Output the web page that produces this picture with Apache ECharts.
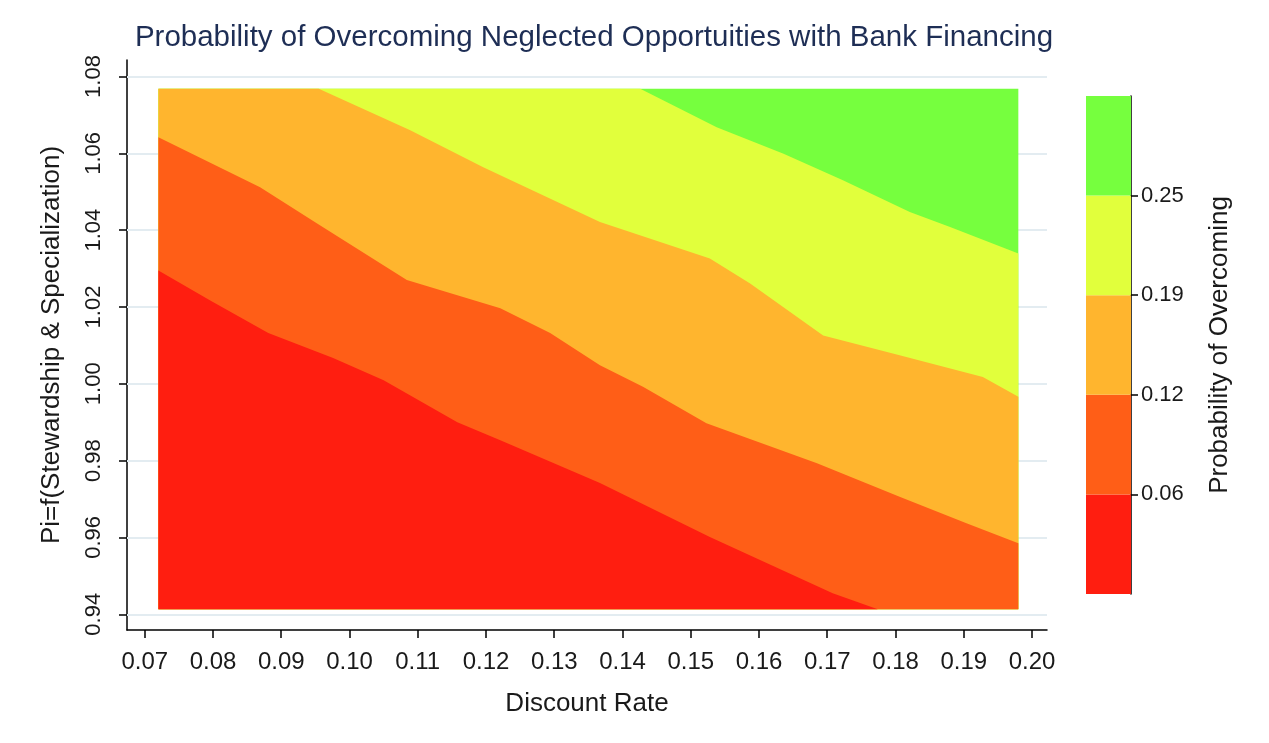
<!DOCTYPE html>
<html>
<head>
<meta charset="utf-8">
<script src="https://cdn.jsdelivr.net/npm/echarts@6/dist/echarts.min.js"></script>
<style>
  html, body { margin: 0; padding: 0; background: #fff; }
  #chart { width: 1269px; height: 743px; }
</style>
</head>
<body>
<div id="chart"></div>
<script>
// axis ticks
const xTicks = [0.07, 0.08, 0.09, 0.10, 0.11, 0.12, 0.13, 0.14, 0.15, 0.16, 0.17, 0.18, 0.19, 0.20]
const yTicks = [0.94, 0.96, 0.98, 1.00, 1.02, 1.04, 1.06, 1.08]

// extent of the computed surface
const xLo = 0.072, xHi = 0.198
const yLo = 0.9413, yHi = 1.0768

// upper edge of each band, bands drawn from top to bottom
const greenTop = [[0.072, 1.0768], [0.198, 1.0768]]
const yellowTop = [[0.072, 1.0768], [0.1426, 1.0768], [0.1538, 1.0668], [0.1636, 1.0599], [0.1723, 1.0530],
  [0.1821, 1.0447], [0.1880, 1.0408], [0.198, 1.0339]]
const orangeTop = [[0.072, 1.0768], [0.0955, 1.0768], [0.1089, 1.0660], [0.1196, 1.0564], [0.1367, 1.0421],
  [0.1528, 1.0326], [0.1587, 1.0261], [0.1694, 1.0126], [0.1806, 1.0074], [0.1928, 1.0018], [0.198, 0.9966]]
const darkOrangeTop = [[0.072, 1.0642], [0.0869, 1.0512], [0.0952, 1.0418], [0.1084, 1.0270], [0.1221, 1.0197],
  [0.1294, 1.0132], [0.1367, 1.0048], [0.1430, 0.9992], [0.1523, 0.9897], [0.1685, 0.9793], [0.1806, 0.9706],
  [0.1904, 0.9637], [0.198, 0.9585]]
const redTop = [[0.072, 1.0295], [0.0796, 1.0217], [0.0881, 1.0132], [0.0976, 1.0067], [0.1050, 1.0009],
  [0.1158, 0.9900], [0.1221, 0.9853], [0.1367, 0.9742], [0.1528, 0.9601], [0.1708, 0.9455], [0.1774, 0.9413],
  [0.198, 0.9413]]

// colour key
const legendCuts = [0, 0.0625, 0.125, 0.1875, 0.25, 0.3125]
const legendLabels = ['0.06', '0.12', '0.19', '0.25']
const bandColors = ['#ff1e10', '#ff5e17', '#ffb52e', '#e1ff3c', '#76ff3e']

const font = 'Liberation Sans, Arial, sans-serif'
const txt = '#1a1a1a'

const chart = echarts.init(document.getElementById('chart'))

function band(data, color) {
  return {
    type: 'line',
    data: data,
    showSymbol: false,
    silent: true,
    z: 3,
    lineStyle: { width: 0, opacity: 0 },
    areaStyle: { color: color, opacity: 1, origin: yLo }
  }
}

const legendTicks = legendCuts.slice(1, legendCuts.length - 1)

chart.setOption({
  animation: false,
  title: {
    text: 'Probability of Overcoming Neglected Opportuities with Bank Financing',
    left: 589,
    textAlign: 'center',
    top: 18,
    textStyle: { fontFamily: font, fontSize: 29.5, fontWeight: 'normal', color: '#1e2e55' }
  },
  grid: [
    { left: 127, top: 60, width: 920, height: 570 },
    { left: 1086, top: 96, width: 45, height: 498 }
  ],
  xAxis: [{
    type: 'value',
    min: 0.0674,
    max: 0.2022,
    name: 'Discount Rate',
    nameLocation: 'middle',
    nameGap: 61,
    nameTextStyle: { fontFamily: font, fontSize: 26, color: txt },
    axisLine: { lineStyle: { color: '#000', width: 1.5 } },
    axisTick: { show: true, length: 8, customValues: xTicks, lineStyle: { color: '#000', width: 1.5 } },
    axisLabel: {
      customValues: xTicks, margin: 20,
      fontFamily: font, fontSize: 24, color: txt,
      formatter: v => v.toFixed(2)
    },
    splitLine: { show: false }
  }, {
    type: 'category',
    gridIndex: 1,
    data: ['key'],
    show: false
  }],
  yAxis: [{
    type: 'value',
    min: 0.9359,
    max: 1.0843,
    name: 'Pi=f(Stewardship & Specialization)',
    nameLocation: 'middle',
    nameRotate: 90,
    nameGap: 62,
    nameTextStyle: { fontFamily: font, fontSize: 26, color: txt },
    axisLine: { show: true, lineStyle: { color: '#000', width: 1.5 } },
    axisTick: { show: true, length: 8, customValues: yTicks, lineStyle: { color: '#000', width: 1.5 } },
    axisLabel: {
      customValues: yTicks, rotate: 90, margin: 22,
      fontFamily: font, fontSize: 22, color: txt,
      formatter: v => v.toFixed(2)
    },
    splitLine: { show: false }
  }, {
    type: 'value',
    gridIndex: 1,
    position: 'right',
    min: legendCuts[0],
    max: legendCuts[legendCuts.length - 1],
    name: 'Probability of Overcoming',
    nameLocation: 'middle',
    nameRotate: 90,
    nameGap: 76,
    nameTextStyle: { fontFamily: font, fontSize: 26, color: txt },
    axisLine: { show: true, lineStyle: { color: '#000', width: 1.5 } },
    axisTick: { show: true, length: 7, customValues: legendTicks, lineStyle: { color: '#000', width: 1.5 } },
    axisLabel: {
      customValues: legendTicks, margin: 10,
      fontFamily: font, fontSize: 22, color: txt,
      formatter: v => {
        const i = legendTicks.findIndex(t => Math.abs(t - v) < 1e-9)
        return i >= 0 ? legendLabels[i] : ''
      }
    },
    splitLine: { show: false }
  }],
  series: [
    {
      // horizontal grid lines behind the surface
      type: 'line',
      data: [],
      silent: true,
      markLine: {
        silent: true,
        symbol: 'none',
        z: 1,
        label: { show: false },
        lineStyle: { color: '#e3ecf1', width: 2, type: 'solid' },
        data: yTicks.map(v => ({ yAxis: v }))
      }
    },
    band(greenTop, bandColors[4]),
    band(yellowTop, bandColors[3]),
    band(orangeTop, bandColors[2]),
    band(darkOrangeTop, bandColors[1]),
    band(redTop, bandColors[0])
  ].concat(bandColors.map(c => ({
    type: 'bar',
    xAxisIndex: 1,
    yAxisIndex: 1,
    stack: 'key',
    barWidth: '100%',
    silent: true,
    itemStyle: { color: c },
    data: [legendCuts[1] - legendCuts[0]]
  })))
})
</script>
</body>
</html>
